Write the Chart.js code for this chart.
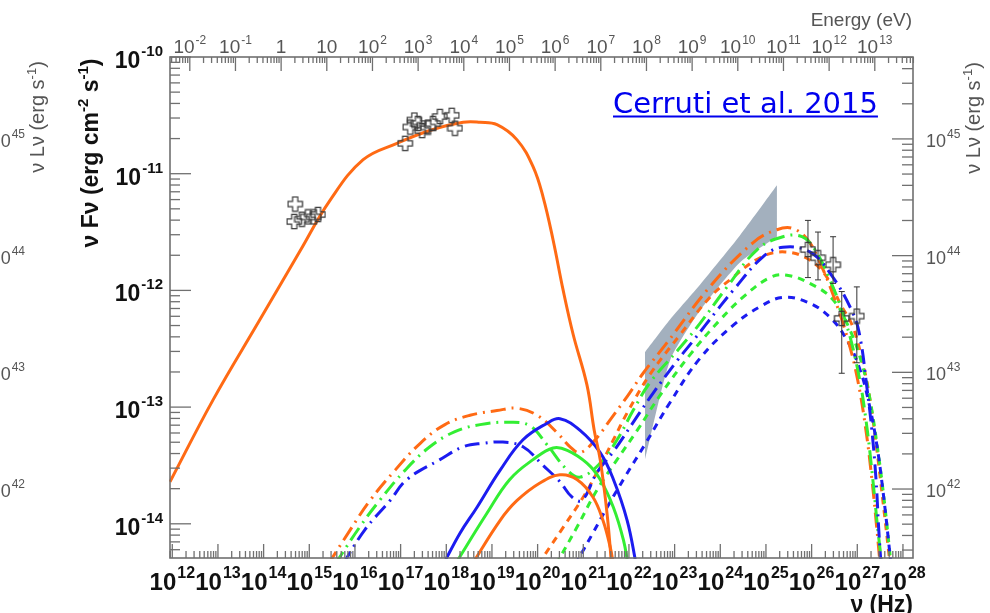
<!DOCTYPE html>
<html>
<head>
<meta charset="utf-8">
<script src="https://cdn.jsdelivr.net/npm/chart.js@4.4.1/dist/chart.umd.min.js"></script>
<style>
html, body { margin: 0; padding: 0; background: #fff; }
#wrap { position: relative; width: 990px; height: 613px; overflow: hidden; }
</style>
</head>
<body>
<div id="wrap"><canvas id="sed" width="990" height="613"></canvas></div>
<script>
// axis ranges, all in log10
const xLogMin = 11.95, xLogMax = 28.22;       // nu (Hz)
const yLogMin = -14.293, yLogMax = -10;       // nu F_nu
const lumOffset = 55.702;                     // log10(nuLnu / nuFnu)
const eVtoHz = 2.418e14;

// tick labels
const nuTicks = [12, 13, 14, 15, 16, 17, 18, 19, 20, 21, 22, 23, 24, 25, 26, 27, 28];
const fluxTicks = [-10, -11, -12, -13, -14];
const lumTicks = [42, 43, 44, 45];
const energyTicks = [-2, -1, 0, 1, 2, 3, 4, 5, 6, 7, 8, 9, 10, 11, 12, 13];

// primary electron synchrotron (orange solid)
const syncNu   = [11.95, 12.89, 13.92, 14.80, 15.45, 16.18, 16.92, 17.64, 18.37, 18.74, 19.11, 19.55, 19.90, 20.12, 20.34, 20.56, 20.78, 21.08, 21.24, 21.37, 21.52, 21.63];
const syncFlux = [-13.64, -12.94, -12.25, -11.66, -11.23, -10.88, -10.74, -10.63, -10.56, -10.56, -10.58, -10.71, -10.94, -11.20, -11.57, -12.00, -12.38, -12.81, -13.20, -13.45, -13.91, -14.40];

// observations
const optNu   = [14.69, 14.67, 14.84, 14.97, 15.10, 15.19];
const optFlux = [-11.26, -11.41, -11.39, -11.37, -11.37, -11.35];
const xrayNu   = [17.10, 17.21, 17.30, 17.38, 17.47, 17.60, 17.71, 17.86, 18.12, 18.19];
const xrayFlux = [-10.74, -10.60, -10.54, -10.57, -10.63, -10.60, -10.57, -10.51, -10.50, -10.61];
const vhsNu    = [25.92, 26.14, 26.47, 26.66, 26.99];
const vhsFlux  = [-11.65, -11.72, -11.78, -12.24, -12.22];
const vhsHi    = [-11.40, -11.50, -11.54, -12.01, -11.97];
const vhsLo    = [-11.89, -11.91, -11.94, -12.71, -12.62];

// Fermi bow-tie
const bowNu    = [22.35, 22.90, 23.56, 24.43, 25.24];
const bowUpper = [-12.53, -12.25, -11.95, -11.53, -11.10];
const bowLower = [-13.45, -12.60, -12.17, -11.76, -11.54];

// low-energy solid humps
const blueSolidNu   = [17.93, 18.30, 18.67, 19.18, 19.68, 20.20, 20.49, 20.93, 21.37, 21.66, 21.96, 22.16];
const blueSolidFlux = [-14.35, -14.08, -13.86, -13.54, -13.28, -13.14, -13.10, -13.20, -13.39, -13.62, -13.97, -14.35];
const greenSolidNu   = [18.19, 18.89, 19.39, 19.90, 20.34, 20.65, 21.08, 21.37, 21.66, 21.88, 21.98];
const greenSolidFlux = [-14.35, -13.91, -13.62, -13.45, -13.35, -13.37, -13.48, -13.62, -13.86, -14.14, -14.35];
const orangeSolidNu   = [18.56, 19.18, 19.55, 20.05, 20.49, 20.86, 21.21, 21.43, 21.59, 21.66];
const orangeSolidFlux = [-14.35, -13.97, -13.80, -13.65, -13.58, -13.62, -13.77, -13.97, -14.20, -14.35];

// dash-dot totals
const orangeDDNu   = [15.41, 15.90, 16.33, 16.88, 17.43, 17.97, 18.52, 19.11, 19.55, 19.99, 20.43, 20.71, 20.93, 21.26, 21.66, 21.96, 22.31, 22.83, 23.77, 24.72, 25.24, 25.59, 25.92, 26.18, 26.51, 26.80, 27.01, 27.19, 27.32, 27.43, 27.50];
const orangeDDFlux = [-14.35, -14.05, -13.80, -13.54, -13.31, -13.15, -13.07, -13.03, -13.01, -13.07, -13.22, -13.34, -13.39, -13.28, -13.07, -12.91, -12.71, -12.45, -11.97, -11.59, -11.48, -11.47, -11.57, -11.76, -12.08, -12.43, -12.77, -13.20, -13.62, -14.05, -14.35];
const greenDDNu   = [15.56, 16.10, 16.54, 17.10, 17.64, 18.19, 18.74, 19.39, 19.83, 20.20, 20.65, 20.93, 21.37, 21.74, 22.09, 22.46, 23.12, 23.56, 24.15, 24.81, 25.37, 25.79, 26.07, 26.40, 26.73, 27.01, 27.19, 27.34, 27.45, 27.54];
const greenDDFlux = [-14.35, -14.03, -13.80, -13.54, -13.34, -13.21, -13.15, -13.13, -13.16, -13.32, -13.54, -13.60, -13.48, -13.28, -13.03, -12.79, -12.49, -12.28, -11.97, -11.65, -11.54, -11.54, -11.65, -11.91, -12.25, -12.68, -13.11, -13.62, -14.05, -14.35];
const blueDDNu   = [15.73, 16.22, 16.77, 17.14, 17.86, 18.37, 18.80, 19.24, 19.68, 20.12, 20.49, 20.75, 20.97, 21.30, 21.66, 22.18, 22.53, 23.06, 23.41, 23.93, 24.28, 24.94, 25.37, 25.96, 26.40, 26.90, 27.06, 27.21, 27.32, 27.41, 27.47, 27.52];
const blueDDFlux = [-14.35, -14.05, -13.80, -13.62, -13.45, -13.34, -13.31, -13.30, -13.34, -13.50, -13.64, -13.77, -13.80, -13.56, -13.38, -13.08, -12.88, -12.60, -12.43, -12.17, -12.00, -11.71, -11.63, -11.67, -11.85, -12.19, -12.40, -12.83, -13.20, -13.62, -14.05, -14.35];

// short-dashed high-energy humps
const orangeDashNu   = [20.01, 20.56, 21.00, 21.30, 21.66, 21.96, 22.46, 23.12, 23.77, 24.21, 24.87, 25.42, 25.96, 26.34, 26.62, 26.90, 27.12, 27.28, 27.43, 27.56, 27.72];
const orangeDashFlux = [-14.35, -14.03, -13.77, -13.56, -13.28, -13.05, -12.72, -12.38, -12.06, -11.91, -11.72, -11.67, -11.74, -11.89, -12.11, -12.31, -12.62, -12.94, -13.37, -13.80, -14.35];
const greenDashNu   = [20.40, 20.86, 21.30, 21.74, 22.18, 22.68, 23.34, 24.00, 24.55, 25.09, 25.46, 25.96, 26.47, 26.84, 27.11, 27.28, 27.45, 27.59, 27.74];
const greenDashFlux = [-14.35, -14.03, -13.71, -13.45, -13.20, -12.90, -12.55, -12.25, -12.04, -11.89, -11.87, -11.94, -12.08, -12.34, -12.64, -12.94, -13.37, -13.80, -14.35];
const blueDashNu   = [20.82, 21.21, 21.52, 21.91, 22.35, 22.90, 23.56, 24.28, 24.87, 25.37, 25.90, 26.40, 26.78, 27.06, 27.24, 27.41, 27.56, 27.74];
const blueDashFlux = [-14.35, -14.08, -13.86, -13.60, -13.32, -12.96, -12.58, -12.30, -12.14, -12.06, -12.10, -12.23, -12.43, -12.68, -12.94, -13.28, -13.71, -14.35];

const ORANGE = '#ff6a14', GREEN = '#33ee33', BLUE = '#1c1cf0';
const AXIS = '#707070', GREY_TXT = '#555';
const FONT = '"Liberation Sans", Arial, sans-serif';

const pts = (nu, fl) => nu.map((v, i) => ({ x: Math.pow(10, v), y: Math.pow(10, fl[i]) }));

// hollow plus marker
function plusMarker() {
    const c = document.createElement('canvas');
    c.width = 17; c.height = 17;
    const g = c.getContext('2d');
    const m = 8.5, a = 2.6, b = 7.2;
    g.strokeStyle = '#3a3a3a';
    g.lineWidth = 1.2;
    g.beginPath();
    [[-a,-b],[a,-b],[a,-a],[b,-a],[b,a],[a,a],[a,b],[-a,b],[-a,a],[-b,a],[-b,-a],[-a,-a]]
        .forEach(([dx, dy], i) => i ? g.lineTo(m + dx, m + dy) : g.moveTo(m + dx, m + dy));
    g.closePath();
    g.stroke();
    return c;
}
const marker = plusMarker();

function curve(nu, fl, color, dash) {
    return {
        data: pts(nu, fl), showLine: true, borderColor: color, borderWidth: 3,
        borderDash: dash || [], pointRadius: 0, fill: false,
        tension: 0.4, clip: 1, order: 1
    };
}
const DD = [15, 6, 2, 6];
const DASH = [7, 6];

const datasets = [
    { data: pts(optNu, optFlux), pointStyle: marker, pointRadius: 8, showLine: false, order: 0 },
    { data: pts(xrayNu, xrayFlux), pointStyle: marker, pointRadius: 8, showLine: false, order: 0 },
    { data: pts(vhsNu, vhsFlux), pointStyle: marker, pointRadius: 8, showLine: false, order: 0 },
    curve(syncNu, syncFlux, ORANGE),
    curve(blueSolidNu, blueSolidFlux, BLUE),
    curve(greenSolidNu, greenSolidFlux, GREEN),
    curve(orangeSolidNu, orangeSolidFlux, ORANGE),
    curve(blueDDNu, blueDDFlux, BLUE, DD),
    curve(greenDDNu, greenDDFlux, GREEN, DD),
    curve(orangeDDNu, orangeDDFlux, ORANGE, DD),
    curve(blueDashNu, blueDashFlux, BLUE, DASH),
    curve(greenDashNu, greenDashFlux, GREEN, DASH),
    curve(orangeDashNu, orangeDashFlux, ORANGE, DASH),
    { data: pts(bowNu, bowUpper), showLine: true, borderWidth: 0, pointRadius: 0, tension: 0.2,
      fill: '+1', backgroundColor: '#a3b0be', order: 5 },
    { data: pts(bowNu, bowLower), showLine: true, borderWidth: 0, pointRadius: 0, tension: 0.2,
      fill: false, order: 5 }
];

// text with a superscript part
function supText(ctx, base, exp, x, y, o) {
    ctx.font = (o.bold ? 'bold ' : '') + o.size + 'px ' + FONT;
    const wb = ctx.measureText(base).width;
    ctx.font = (o.bold ? 'bold ' : '') + o.expSize + 'px ' + FONT;
    const we = exp ? ctx.measureText(exp).width + 1 : 0;
    const w = wb + we;
    let x0 = x;
    if (o.align === 'center') x0 = x - w / 2;
    else if (o.align === 'right') x0 = x - w;
    ctx.fillStyle = o.color;
    ctx.textAlign = 'left';
    ctx.textBaseline = 'alphabetic';
    ctx.font = (o.bold ? 'bold ' : '') + o.size + 'px ' + FONT;
    ctx.fillText(base, x0, y);
    if (exp) {
        ctx.font = (o.bold ? 'bold ' : '') + o.expSize + 'px ' + FONT;
        ctx.fillText(exp, x0 + wb + 1, y - o.rise);
    }
}

// rotated title made of [text, isSuperscript] parts
function rotTitle(ctx, parts, cx, cy, o) {
    ctx.save();
    ctx.translate(cx, cy);
    ctx.rotate(-Math.PI / 2);
    const f = (s) => (o.bold ? 'bold ' : '') + s + 'px ' + FONT;
    let w = 0;
    parts.forEach(([t, sup]) => { ctx.font = f(sup ? o.expSize : o.size); w += ctx.measureText(t).width; });
    let x = -w / 2;
    ctx.fillStyle = o.color;
    ctx.textBaseline = 'alphabetic';
    ctx.textAlign = 'left';
    parts.forEach(([t, sup]) => {
        ctx.font = f(sup ? o.expSize : o.size);
        ctx.fillText(t, x, sup ? o.base - o.rise : o.base);
        x += ctx.measureText(t).width;
    });
    ctx.restore();
}

const errorBars = {
    id: 'errorBars',
    afterDatasetsDraw(chart) {
        const { ctx, scales } = chart;
        ctx.save();
        ctx.strokeStyle = '#333';
        ctx.lineWidth = 1;
        vhsNu.forEach((v, i) => {
            const px = scales.x.getPixelForValue(Math.pow(10, v));
            const hi = scales.y.getPixelForValue(Math.pow(10, vhsHi[i]));
            const lo = scales.y.getPixelForValue(Math.pow(10, vhsLo[i]));
            ctx.beginPath();
            ctx.moveTo(px, hi); ctx.lineTo(px, lo);
            ctx.moveTo(px - 3, hi); ctx.lineTo(px + 3, hi);
            ctx.moveTo(px - 3, lo); ctx.lineTo(px + 3, lo);
            ctx.stroke();
        });
        ctx.restore();
    }
};

const frame = {
    id: 'frame',
    afterDraw(chart) {
        const { ctx, chartArea: a, scales } = chart;
        ctx.save();
        ctx.strokeStyle = AXIS;
        ctx.lineWidth = 1.6;
        ctx.strokeRect(a.left, a.top, a.right - a.left, a.bottom - a.top);
        ctx.lineWidth = 1.3;
        const line = (x1, y1, x2, y2) => { ctx.beginPath(); ctx.moveTo(x1, y1); ctx.lineTo(x2, y2); ctx.stroke(); };
        const inX = (p) => p >= a.left - 0.5 && p <= a.right + 0.5;
        const inY = (p) => p >= a.top - 0.5 && p <= a.bottom + 0.5;

        for (let d = 11; d <= 28; d++) for (let k = 1; k <= 9; k++) {
            const p = scales.x.getPixelForValue(k * Math.pow(10, d));
            if (inX(p)) line(p, a.bottom, p, a.bottom - (k === 1 ? 14 : 7));
        }
        for (let d = -3; d <= 13; d++) for (let k = 1; k <= 9; k++) {
            const p = scales.xE.getPixelForValue(k * Math.pow(10, d));
            if (inX(p)) line(p, a.top, p, a.top + (k === 1 ? 14 : 6));
        }
        for (let d = -15; d <= -10; d++) for (let k = 1; k <= 9; k++) {
            const p = scales.y.getPixelForValue(k * Math.pow(10, d));
            if (inY(p)) line(a.left, p, a.left + (k === 1 ? 21 : 10), p);
        }
        for (let d = 40; d <= 45; d++) for (let k = 1; k <= 9; k++) {
            const p = scales.y2.getPixelForValue(k * Math.pow(10, d));
            if (inY(p)) line(a.right, p, a.right - (k === 1 ? 21 : 11), p);
        }

        // tick labels
        nuTicks.forEach(d => {
            const p = scales.x.getPixelForValue(Math.pow(10, d));
            supText(ctx, '10', String(d), p, 590, { bold: true, size: 24, expSize: 16, rise: 12, align: 'center', color: '#111' });
        });
        fluxTicks.forEach(e => {
            const p = scales.y.getPixelForValue(Math.pow(10, e));
            supText(ctx, '10', String(e), 163, p + 11, { bold: true, size: 23, expSize: 15, rise: 12, align: 'right', color: '#111' });
        });
        lumTicks.forEach(l => {
            const p = scales.y2.getPixelForValue(Math.pow(10, l));
            supText(ctx, '10', String(l), 926, p + 8, { size: 18, expSize: 12, rise: 9, align: 'left', color: GREY_TXT });
            supText(ctx, '10', String(l), 25, p + 8, { size: 18, expSize: 12, rise: 9, align: 'right', color: GREY_TXT });
        });
        energyTicks.forEach(e => {
            const p = scales.xE.getPixelForValue(Math.pow(10, e));
            const base = e === 0 ? '1' : '10';
            const exp = (e === 0 || e === 1) ? null : String(e);
            supText(ctx, base, exp, p, 53, { size: 19, expSize: 12, rise: 9, align: 'center', color: GREY_TXT });
        });

        // titles
        ctx.font = '19px ' + FONT;
        ctx.fillStyle = GREY_TXT;
        ctx.textAlign = 'right';
        ctx.textBaseline = 'alphabetic';
        ctx.fillText('Energy (eV)', 912, 26);

        ctx.font = 'bold 23px ' + FONT;
        ctx.fillStyle = '#111';
        ctx.fillText('\u03bd (Hz)', 913, 612);

        rotTitle(ctx, [['\u03bd F\u03bd (erg cm', false], ['-2', true], [' s', false], ['-1', true], [')', false]],
            90, 153, { bold: true, size: 23, expSize: 15, rise: 10, base: 8, color: '#111' });
        const lumTitle = [['\u03bd L\u03bd (erg s', false], ['-1', true], [')', false]];
        rotTitle(ctx, lumTitle, 973, 118, { size: 20, expSize: 13, rise: 8, base: 7, color: GREY_TXT });
        rotTitle(ctx, lumTitle, 37, 117, { size: 20, expSize: 13, rise: 8, base: 7, color: GREY_TXT });

        // citation link
        ctx.font = '29px "DejaVu Sans", Verdana, sans-serif';
        ctx.fillStyle = '#0000ee';
        ctx.textAlign = 'left';
        ctx.fillText('Cerruti et al. 2015', 613, 113);
        const w = ctx.measureText('Cerruti et al. 2015').width;
        ctx.fillRect(613, 115.5, w, 2);
        ctx.restore();
    }
};

const ymin = Math.pow(10, yLogMin), ymax = Math.pow(10, yLogMax);
const xmin = Math.pow(10, xLogMin), xmax = Math.pow(10, xLogMax);

new Chart(document.getElementById('sed'), {
    type: 'scatter',
    data: { datasets },
    options: {
        responsive: false,
        devicePixelRatio: 1,
        animation: false,
        layout: { padding: { left: 170, right: 77, top: 57, bottom: 55 } },
        scales: {
            x: { type: 'logarithmic', min: xmin, max: xmax, display: false },
            y: { type: 'logarithmic', min: ymin, max: ymax, display: false },
            y2: { type: 'logarithmic', position: 'right', min: ymin * Math.pow(10, lumOffset), max: ymax * Math.pow(10, lumOffset), display: false },
            xE: { type: 'logarithmic', axis: 'x', position: 'top', min: xmin / eVtoHz, max: xmax / eVtoHz, display: false }
        },
        plugins: { legend: { display: false }, tooltip: { enabled: false } }
    },
    plugins: [errorBars, frame]
});
</script>
</body>
</html>
